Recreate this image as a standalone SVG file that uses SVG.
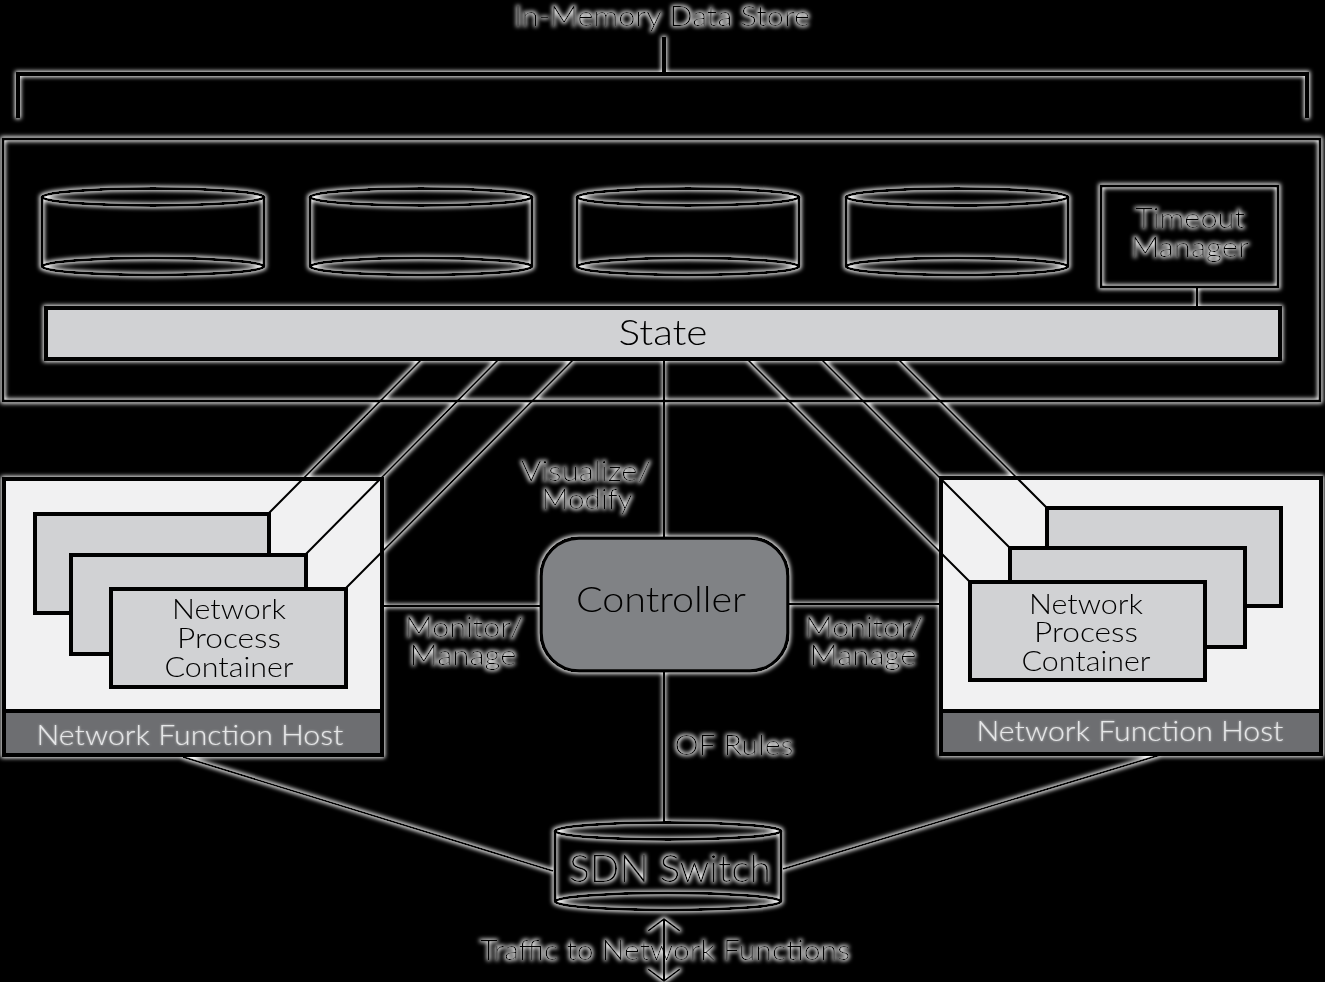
<svg xmlns="http://www.w3.org/2000/svg" width="1325" height="982" viewBox="0 0 1325 982">
<style>
text{font-family:Lato,"Open Sans","Liberation Sans",sans-serif;font-weight:300;fill:#000;text-anchor:middle}
.ln{fill:none;stroke:#000;stroke-width:2}
.thick{fill:none;stroke:#000;stroke-width:4}
.cyl{fill:none;stroke:#000;stroke-width:3}
.card{fill:#d1d2d4;stroke:#000;stroke-width:4}
.hostbg{fill:#f1f1f2;stroke:#000;stroke-width:4}
.bar{fill:#6d6e71;stroke:#000;stroke-width:4}
.barText{fill:#e6e7e8;font-size:27px}
.lbl{font-size:27px}
</style>
<defs>
<filter id="glow" filterUnits="userSpaceOnUse" x="0" y="0" width="1325" height="982">
<feMorphology in="SourceAlpha" operator="dilate" radius="1.3" result="d"/>
<feGaussianBlur in="d" stdDeviation="2" result="b"/>
<feFlood flood-color="#ffffff" flood-opacity="1"/>
<feComposite in2="b" operator="in" result="g"/>
<feMerge><feMergeNode in="g"/><feMergeNode in="SourceGraphic"/></feMerge>
</filter>
<filter id="soft" filterUnits="userSpaceOnUse" x="0" y="0" width="1325" height="982">
<feGaussianBlur in="SourceAlpha" stdDeviation="1.2" result="b"/>
<feFlood flood-color="#ffffff" flood-opacity="0.6"/>
<feComposite in2="b" operator="in" result="g"/>
<feMerge><feMergeNode in="g"/><feMergeNode in="SourceGraphic"/></feMerge>
</filter>
</defs>
<rect x="0" y="0" width="1325" height="982" fill="#000"/>
<g filter="url(#glow)">
  <g id="store-label">
    <text class="lbl" x="662" y="26" textLength="296" lengthAdjust="spacingAndGlyphs">In-Memory Data Store</text>
    <path class="thick" d="M664,37 V74 M18,118 V74 H1307 V118"/>
  </g>
  <g id="data-store">
    <rect class="cyl" x="3" y="139" width="1317" height="262"/>
  </g>
  <g id="db1"><path class="cyl" d="M42,197 V266 M264,197 V266"/><ellipse class="cyl" cx="153" cy="197" rx="111" ry="8.5"/><ellipse class="cyl" cx="153" cy="266.5" rx="111" ry="8.5"/></g>
  <g id="db2"><path class="cyl" d="M310,197 V266 M532,197 V266"/><ellipse class="cyl" cx="421" cy="197" rx="111" ry="8.5"/><ellipse class="cyl" cx="421" cy="266.5" rx="111" ry="8.5"/></g>
  <g id="db3"><path class="cyl" d="M577,197 V266 M799,197 V266"/><ellipse class="cyl" cx="688" cy="197" rx="111" ry="8.5"/><ellipse class="cyl" cx="688" cy="266.5" rx="111" ry="8.5"/></g>
  <g id="db4"><path class="cyl" d="M846,197 V266 M1068,197 V266"/><ellipse class="cyl" cx="957" cy="197" rx="111" ry="8.5"/><ellipse class="cyl" cx="957" cy="266.5" rx="111" ry="8.5"/></g>
  <g id="timeout-manager">
    <rect class="cyl" x="1101" y="186" width="177" height="101"/>
    <text class="lbl" x="1190" y="228" textLength="110" lengthAdjust="spacingAndGlyphs">Timeout</text>
    <text class="lbl" x="1190" y="257" textLength="118" lengthAdjust="spacingAndGlyphs">Manager</text>
  </g>
  <g id="state">
    <rect x="46" y="308" width="1234" height="51" fill="#d1d2d4" stroke="#000" stroke-width="4"/>
    <text x="663" y="345" font-size="35" textLength="89" lengthAdjust="spacingAndGlyphs">State</text>
  </g>
  <g id="host-left">
    <rect class="hostbg" x="4" y="479" width="378" height="276"/>
    <rect class="bar" x="4" y="711" width="378" height="44"/>
    <text class="barText" x="190" y="745" textLength="307" lengthAdjust="spacingAndGlyphs" filter="url(#soft)">Network Function Host</text>
    <rect class="card" x="35" y="514" width="234" height="99"/>
    <rect class="card" x="71" y="555" width="235" height="99"/>
    <rect class="card" x="111" y="589" width="235" height="98"/>
    <text class="lbl" x="229" y="619" textLength="114" lengthAdjust="spacingAndGlyphs">Network</text>
    <text class="lbl" x="229" y="648" textLength="104" lengthAdjust="spacingAndGlyphs">Process</text>
    <text class="lbl" x="229" y="677" textLength="129" lengthAdjust="spacingAndGlyphs">Container</text>
  </g>
  <g id="host-right">
    <rect class="hostbg" x="941" y="478" width="380" height="276"/>
    <rect class="bar" x="941" y="711" width="380" height="43"/>
    <text class="barText" x="1130" y="741" textLength="307" lengthAdjust="spacingAndGlyphs" filter="url(#soft)">Network Function Host</text>
    <rect class="card" x="1047" y="508" width="234" height="98"/>
    <rect class="card" x="1010" y="548" width="235" height="99"/>
    <rect class="card" x="970" y="582" width="235" height="98"/>
    <text class="lbl" x="1086" y="614" textLength="114" lengthAdjust="spacingAndGlyphs">Network</text>
    <text class="lbl" x="1086" y="642" textLength="104" lengthAdjust="spacingAndGlyphs">Process</text>
    <text class="lbl" x="1086" y="671" textLength="129" lengthAdjust="spacingAndGlyphs">Container</text>
  </g>
  <g id="controller">
    <rect x="541" y="538" width="247" height="133" rx="38" fill="#808285" stroke="#000" stroke-width="3.5"/>
    <text x="661" y="612" font-size="35" textLength="170" lengthAdjust="spacingAndGlyphs">Controller</text>
  </g>
  <g id="sdn-switch">
    <path class="cyl" d="M555,831 V901 M781,831 V901"/>
    <ellipse class="cyl" cx="668" cy="831" rx="113" ry="8.5"/>
    <ellipse class="cyl" cx="668" cy="901.5" rx="113" ry="8.5"/>
    <text x="670" y="882" font-size="37" textLength="202" lengthAdjust="spacingAndGlyphs">SDN Switch</text>
  </g>
  <g id="connectors">
    <path class="ln" d="M1197,288 V307"/>
    <path class="ln" d="M421,360 L269,513 M498,360 L306,554 M573,360 L346,588"/>
    <path class="ln" d="M899,360 L1047,508 M822,360 L1010,548 M748,360 L970,582"/>
    <path class="ln" d="M664,360 V537"/>
    <path class="ln" d="M384,606 H540 M789,604 H940"/>
    <path class="ln" d="M664,672 V822"/>
    <path class="ln" d="M183,757 L553,871 M1160,755 L783,869"/>
    <path class="ln" d="M664,920 V980 M648,931 L664,919 L680,931 M648,969 L664,981 L680,969"/>
    <text class="lbl" x="586" y="481" textLength="130" lengthAdjust="spacingAndGlyphs">Visualize/</text>
    <text class="lbl" x="587" y="509" textLength="91" lengthAdjust="spacingAndGlyphs">Modify</text>
    <text class="lbl" x="464" y="637" textLength="118" lengthAdjust="spacingAndGlyphs">Monitor/</text>
    <text class="lbl" x="463" y="665" textLength="107" lengthAdjust="spacingAndGlyphs">Manage</text>
    <text class="lbl" x="864" y="637" textLength="118" lengthAdjust="spacingAndGlyphs">Monitor/</text>
    <text class="lbl" x="863" y="665" textLength="107" lengthAdjust="spacingAndGlyphs">Manage</text>
    <text class="lbl" x="734" y="755" textLength="119" lengthAdjust="spacingAndGlyphs">OF Rules</text>
    <text class="lbl" x="665" y="960" textLength="370" lengthAdjust="spacingAndGlyphs">Traffic to Network Functions</text>
  </g>
</g>
</svg>
